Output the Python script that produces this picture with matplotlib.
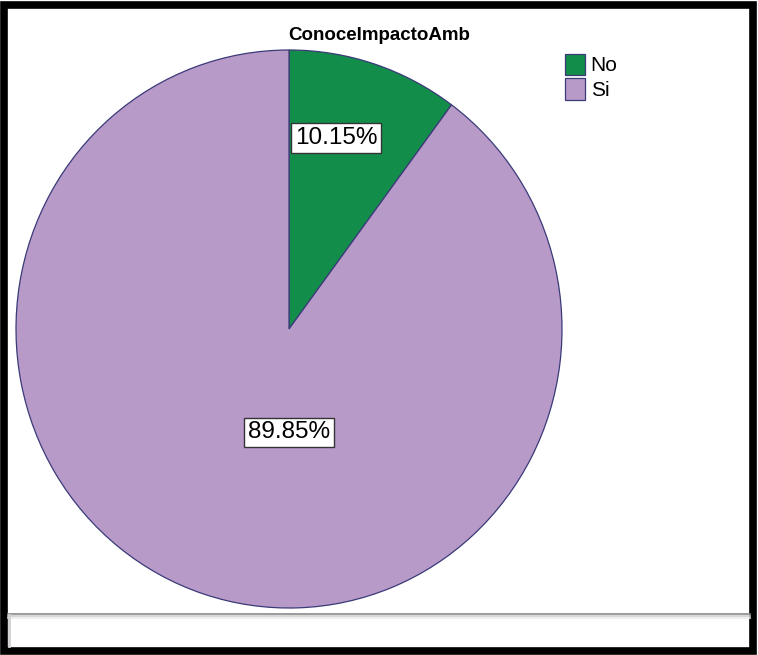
import matplotlib.pyplot as plt
from matplotlib.patches import Rectangle
from matplotlib.lines import Line2D

plt.rcParams['font.family'] = ['Liberation Sans', 'DejaVu Sans']

labels = ['No', 'Si']
sizes = [10.15, 89.85]
colors = ['#138d4a', '#b89ac9']
# where the percentage boxes sit, in pie units
label_pos = [(0.172, 0.685), (0.0, -0.37)]

fig = plt.figure(figsize=(7.58, 6.55), dpi=100)
ax = fig.add_axes([16/758, 47/655, 546/758, 558/655])

wedges, texts, autotexts = ax.pie(sizes, colors=colors, startangle=90,
                                  counterclock=False, autopct='%1.2f%%',
                                  wedgeprops=dict(edgecolor='#3a3a78', linewidth=0.9),
                                  textprops=dict(fontsize=17.5))
for t, pos in zip(autotexts, label_pos):
    t.set_position(pos)
    t.set_bbox(dict(boxstyle='square,pad=0.15', facecolor='white',
                    edgecolor='#333333', linewidth=1))
ax.set_aspect('auto')
ax.set_xlim(-1, 1)
ax.set_ylim(-1, 1)

fig.text(379/758, 1 - 35/655, 'ConoceImpactoAmb', ha='center', va='center',
         fontsize=13.5, fontweight='bold')

leg = fig.legend(wedges, labels, loc='upper left', bbox_to_anchor=(550/758, 1 - 39/655),
                 frameon=False, fontsize=15, handlelength=1.0, handleheight=1.2,
                 handletextpad=0.25, labelspacing=0.15, borderpad=0.2)
for h in leg.legend_handles:
    h.set_edgecolor('#3a3a78')

# separator line near the bottom, with a soft shadow
fig.add_artist(Line2D([8/758, 750/758], [1 - 614/655] * 2, color='#8a8a8a', lw=1.2))
fig.add_artist(Line2D([8/758, 750/758], [1 - 616/655] * 2, color='#cfcfcf', lw=1.2))
fig.add_artist(Line2D([8/758, 750/758], [1 - 618/655] * 2, color='#ececec', lw=1.2))
fig.add_artist(Line2D([9/758] * 2, [1 - 646/655, 1 - 615/655], color='#d0d0d0', lw=2))

# thick black frame
fig.add_artist(Rectangle((3.5/758, 4.5/655), 749/758, 646/655, transform=fig.transFigure,
                         fill=False, edgecolor='black', lw=5.5))

fig.savefig('out.png', dpi=100)
